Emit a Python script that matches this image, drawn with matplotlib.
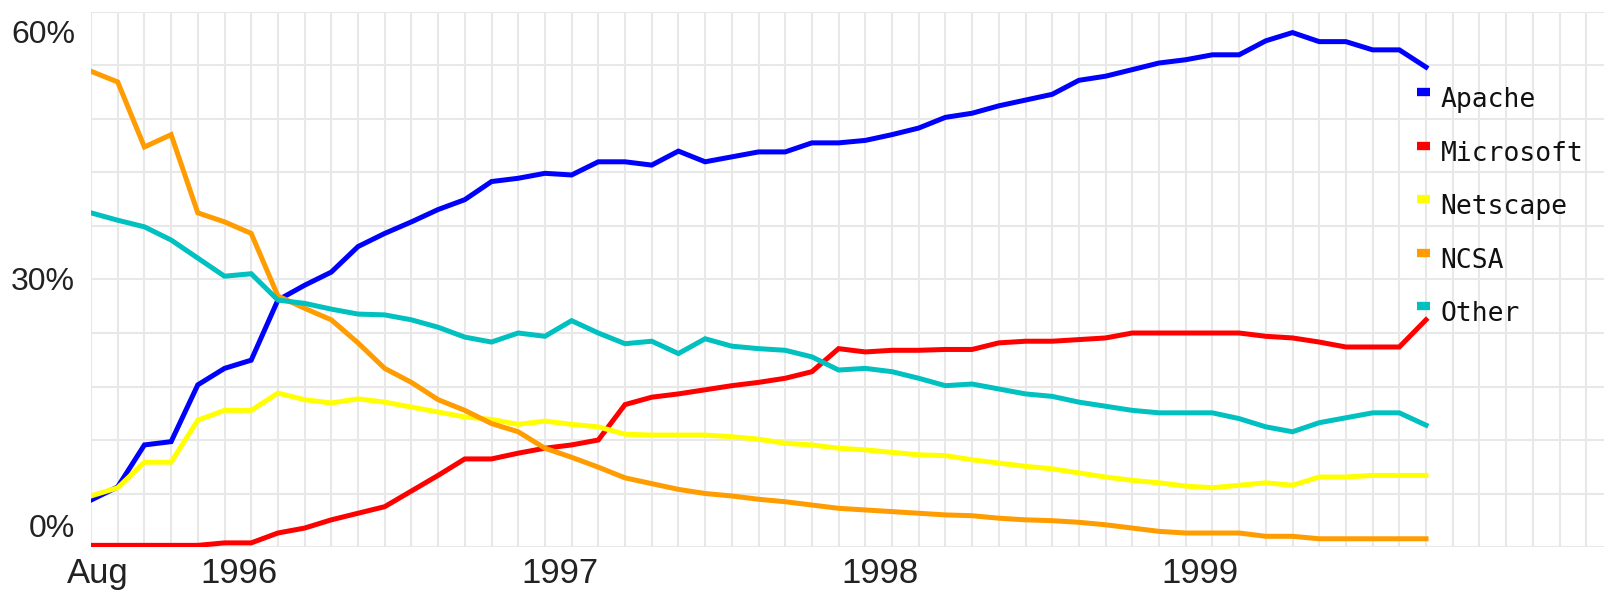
import numpy as np
import matplotlib
matplotlib.use('Agg')
import matplotlib.pyplot as plt
import matplotlib.transforms as mtransforms

# Web server market share, monthly from Aug 1995 to Oct 1999 (percent)
months = np.arange(51)  # month index, 0 = Aug 1995

apache = [5.7, 7.3, 12.4, 12.8, 19.7, 21.7, 22.7, 30.0, 31.8, 33.4,
          36.5, 38.1, 39.5, 41.0, 42.2, 44.4, 44.8, 45.4, 45.2, 46.8,
          46.8, 46.4, 48.1, 46.8, 47.4, 48.0, 48.0, 49.1, 49.1, 49.4,
          50.1, 50.9, 52.2, 52.7, 53.6, 54.3, 55.0, 56.7, 57.2, 58.0,
          58.8, 59.2, 59.8, 59.8, 61.5, 62.5, 61.4, 61.4, 60.4, 60.4, 58.3]
microsoft = [0.2, 0.2, 0.2, 0.2, 0.2, 0.5, 0.5, 1.7, 2.3, 3.3,
             4.1, 4.9, 6.8, 8.7, 10.7, 10.7, 11.4, 12.0, 12.4, 13.0,
             17.3, 18.2, 18.6, 19.1, 19.6, 20.0, 20.5, 21.3, 24.1, 23.7,
             23.9, 23.9, 24.0, 24.0, 24.8, 25.0, 25.0, 25.2, 25.4, 26.0,
             26.0, 26.0, 26.0, 26.0, 25.6, 25.4, 24.9, 24.3, 24.3, 24.3, 27.6]
netscape = [6.2, 7.2, 10.3, 10.3, 15.4, 16.6, 16.6, 18.7, 17.9, 17.5,
            18.0, 17.6, 17.0, 16.4, 15.8, 15.5, 14.9, 15.3, 14.9, 14.6,
            13.7, 13.6, 13.6, 13.6, 13.4, 13.1, 12.6, 12.4, 12.0, 11.8,
            11.5, 11.2, 11.1, 10.6, 10.2, 9.8, 9.5, 9.0, 8.5, 8.1,
            7.8, 7.4, 7.2, 7.5, 7.8, 7.5, 8.5, 8.5, 8.7, 8.7, 8.7]
ncsa = [57.8, 56.5, 48.6, 50.1, 40.6, 39.5, 38.1, 30.5, 29.0, 27.6,
        24.8, 21.7, 20.0, 17.9, 16.6, 15.0, 14.0, 12.0, 10.9, 9.7,
        8.4, 7.7, 7.0, 6.5, 6.2, 5.8, 5.5, 5.1, 4.7, 4.5,
        4.3, 4.1, 3.9, 3.8, 3.5, 3.3, 3.2, 3.0, 2.7, 2.3,
        1.9, 1.7, 1.7, 1.7, 1.3, 1.3, 1.0, 1.0, 1.0, 1.0, 1.0]
other = [40.6, 39.7, 38.9, 37.3, 35.1, 32.9, 33.2, 30.0, 29.6, 28.9,
         28.3, 28.2, 27.6, 26.7, 25.5, 24.9, 26.0, 25.6, 27.5, 26.0,
         24.7, 25.0, 23.5, 25.3, 24.4, 24.1, 23.9, 23.1, 21.5, 21.7,
         21.3, 20.5, 19.6, 19.8, 19.2, 18.6, 18.3, 17.6, 17.1, 16.6,
         16.3, 16.3, 16.3, 15.6, 14.6, 14.0, 15.1, 15.7, 16.3, 16.3, 14.8]

series_names = ['Apache', 'Microsoft', 'Netscape', 'NCSA', 'Other']
series_colors = ['#0000ff', '#ff0000', '#ffff00', '#ff9c00', '#00c0c0']

x_tick_months = [0, 5, 17, 29, 41]
x_tick_labels = ['Aug', '1996', '1997', '1998', '1999']
y_tick_values = [0, 30, 60]
y_tick_labels = ['0%', '30%', '60%']

fig = plt.figure(figsize=(16.04, 5.94), dpi=100)
W, H = 1604, 594
ax = fig.add_axes([91 / W, 47 / H, (W - 91) / W, 535 / H])

for name, vals, col in zip(series_names, [apache, microsoft, netscape, ncsa, other], series_colors):
    ax.plot(months, vals, color=col, linewidth=3.6, solid_joinstyle='miter', zorder=3)

# monthly grid, 10 horizontal bands
ax.set_xlim(0, (W - 91) / 26.7)
ax.set_ylim(0, 65)
ax.set_xticks(np.arange(0, 57))
ax.set_yticks(np.arange(0, 65.01, 6.5))
ax.grid(True, color='#e8e8e8', linewidth=1.5)
ax.set_axisbelow(True)
ax.tick_params(length=0, labelbottom=False, labelleft=False)
for sp in ax.spines.values():
    sp.set_visible(False)

# y labels sit a little above their value
ytrans = mtransforms.blended_transform_factory(ax.transAxes, ax.transData)
ytrans = mtransforms.offset_copy(ytrans, fig=fig, x=-16, y=10, units='dots')
for v, lab in zip(y_tick_values, y_tick_labels):
    ax.text(0, v, lab, transform=ytrans, ha='right', va='baseline',
            fontsize=23, family='Liberation Sans', color='#222222')

# x labels start a bit left of their month line
xtrans = mtransforms.blended_transform_factory(ax.transData, ax.transAxes)
xtrans = mtransforms.offset_copy(xtrans, fig=fig, x=-24, y=-36, units='dots')
for m, lab in zip(x_tick_months, x_tick_labels):
    ax.text(m, 0, lab, transform=xtrans, ha='left', va='baseline',
            fontsize=25, family='Liberation Sans', color='#222222')

# legend on the right, one entry per grid band
for k, (name, col) in enumerate(zip(series_names, series_colors)):
    yk = 55.25 - 6.5 * k
    ax.plot([49.65, 50.15], [yk, yk], color=col, linewidth=6, solid_capstyle='butt', zorder=4)
    t = mtransforms.offset_copy(ax.transData, fig=fig, x=0, y=-15, units='dots')
    ax.text(50.55, yk, name, transform=t, ha='left', va='baseline',
            fontsize=19, family='DejaVu Sans Mono', color='#111111')

fig.savefig('out.png', dpi=100)
